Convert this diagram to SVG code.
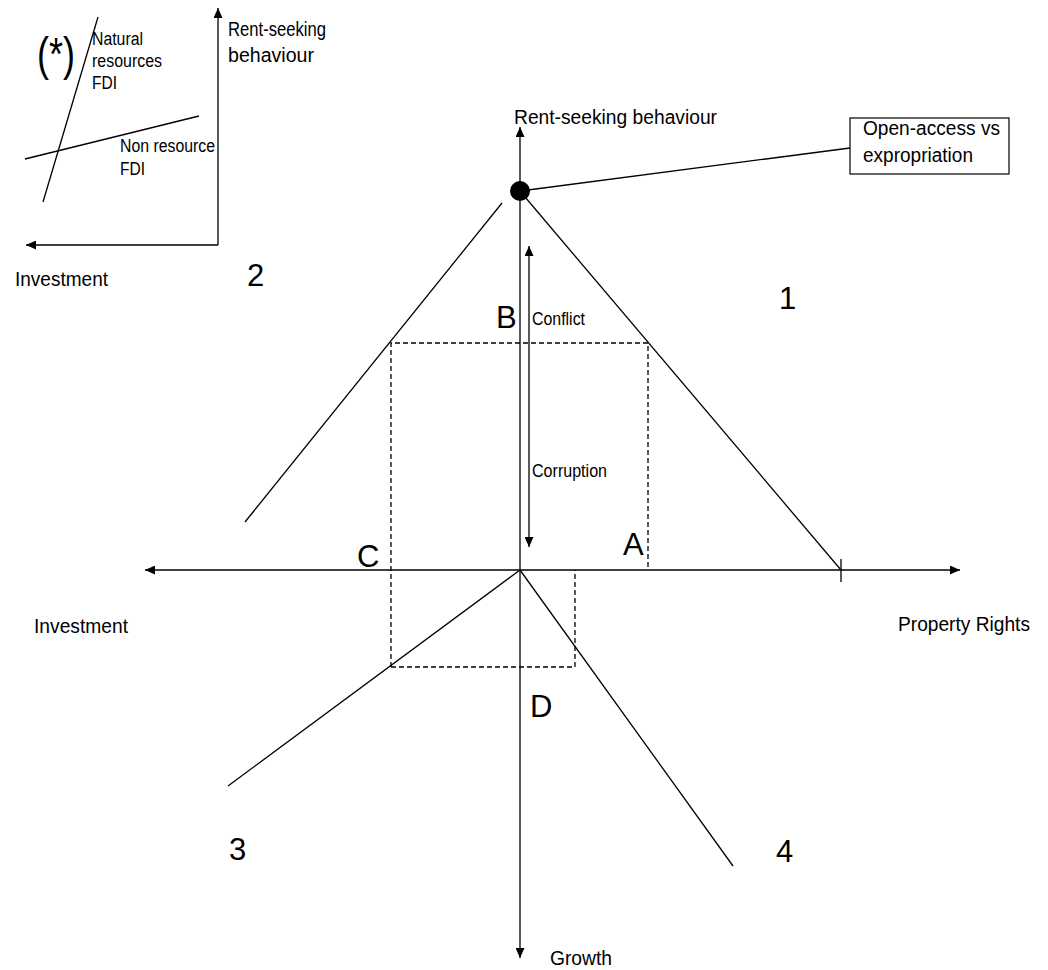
<svg xmlns="http://www.w3.org/2000/svg" width="1048" height="970" viewBox="0 0 1048 970">
<defs>
<marker id="arr" viewBox="0 0 10 9" refX="10" refY="4.5" markerWidth="10" markerHeight="9" markerUnits="userSpaceOnUse" orient="auto-start-reverse">
<path d="M0,0 L10,4.5 L0,9 z" fill="#000"/>
</marker>
</defs>
<style>
.ln{stroke:#000;stroke-width:1.3;fill:none}
.ds{stroke:#000;stroke-width:1.3;fill:none;stroke-dasharray:5 3}
.t{font-family:"Liberation Sans",Arial,sans-serif;fill:#000}
.s17{font-size:18px}
.s18{font-size:18px}
.s20{font-size:20px}
.big{font-size:31px}
</style>
<rect width="1048" height="970" fill="#fff"/>

<g id="inset">
<line class="ln" x1="218" y1="245" x2="218" y2="8" marker-end="url(#arr)"/>
<line class="ln" x1="218" y1="245" x2="26" y2="245" marker-end="url(#arr)"/>
<line class="ln" x1="98" y1="17" x2="43" y2="202"/>
<line class="ln" x1="25" y1="159" x2="199" y2="116"/>
<text class="t" x="37" y="70" font-size="46" textLength="38" lengthAdjust="spacingAndGlyphs">(*)</text>
<text class="t s17" x="92" y="45" textLength="51" lengthAdjust="spacingAndGlyphs">Natural</text>
<text class="t s17" x="92" y="67" textLength="70" lengthAdjust="spacingAndGlyphs">resources</text>
<text class="t s17" x="92" y="89" textLength="25" lengthAdjust="spacingAndGlyphs">FDI</text>
<text class="t s17" x="120" y="152" textLength="95" lengthAdjust="spacingAndGlyphs">Non resource</text>
<text class="t s17" x="120" y="175" textLength="25" lengthAdjust="spacingAndGlyphs">FDI</text>
<text class="t s20" x="228" y="36" textLength="98" lengthAdjust="spacingAndGlyphs">Rent-seeking</text>
<text class="t s20" x="228" y="62" textLength="86" lengthAdjust="spacingAndGlyphs">behaviour</text>
<text class="t s20" x="15" y="286" textLength="93" lengthAdjust="spacingAndGlyphs">Investment</text>
</g>

<g id="connectors">
<line class="ln" x1="520" y1="570" x2="520" y2="127" marker-end="url(#arr)"/>
<line class="ln" x1="520" y1="570" x2="520" y2="958" marker-end="url(#arr)"/>
<line class="ln" x1="520" y1="570" x2="145" y2="570" marker-end="url(#arr)"/>
<line class="ln" x1="520" y1="570" x2="960" y2="570" marker-end="url(#arr)"/>
<line class="ln" x1="841" y1="559" x2="841" y2="582"/>
<line class="ln" x1="525" y1="197" x2="841" y2="570"/>
<line class="ln" x1="502" y1="203" x2="245" y2="522"/>
<line class="ln" x1="520" y1="570" x2="228" y2="786"/>
<line class="ln" x1="520" y1="570" x2="733" y2="866"/>
<line class="ln" x1="528" y1="190" x2="850" y2="148"/>
<line class="ln" x1="529" y1="246" x2="529" y2="547" marker-start="url(#arr)" marker-end="url(#arr)"/>
<path class="ds" d="M391,667 V343 H648 V570"/>
<path class="ds" d="M391,667 H575 V570"/>
</g>

<g id="node-dot">
<circle cx="520" cy="191" r="10" fill="#000"/>
</g>

<g id="node-box">
<rect x="850" y="118" width="159" height="56" fill="#fff" stroke="#000" stroke-width="1.2"/>
<text class="t s20" x="863" y="135" textLength="137" lengthAdjust="spacingAndGlyphs">Open-access vs</text>
<text class="t s20" x="863" y="162" textLength="110" lengthAdjust="spacingAndGlyphs">expropriation</text>
</g>

<g id="labels">
<text class="t s20" x="514" y="124" textLength="203" lengthAdjust="spacingAndGlyphs">Rent-seeking behaviour</text>
<text class="t s20" x="34" y="633" textLength="94" lengthAdjust="spacingAndGlyphs">Investment</text>
<text class="t s20" x="898" y="631" textLength="132" lengthAdjust="spacingAndGlyphs">Property Rights</text>
<text class="t s20" x="550" y="965" textLength="62" lengthAdjust="spacingAndGlyphs">Growth</text>
<text class="t s18" x="532" y="325" textLength="53" lengthAdjust="spacingAndGlyphs">Conflict</text>
<text class="t s18" x="532" y="477" textLength="75" lengthAdjust="spacingAndGlyphs">Corruption</text>
<text class="t big" x="496" y="328">B</text>
<text class="t big" x="623" y="555">A</text>
<text class="t big" x="357" y="567">C</text>
<text class="t big" x="530" y="717">D</text>
<text class="t big" x="779" y="309">1</text>
<text class="t big" x="247" y="286">2</text>
<text class="t big" x="229" y="860">3</text>
<text class="t big" x="776" y="862">4</text>
</g>
</svg>
